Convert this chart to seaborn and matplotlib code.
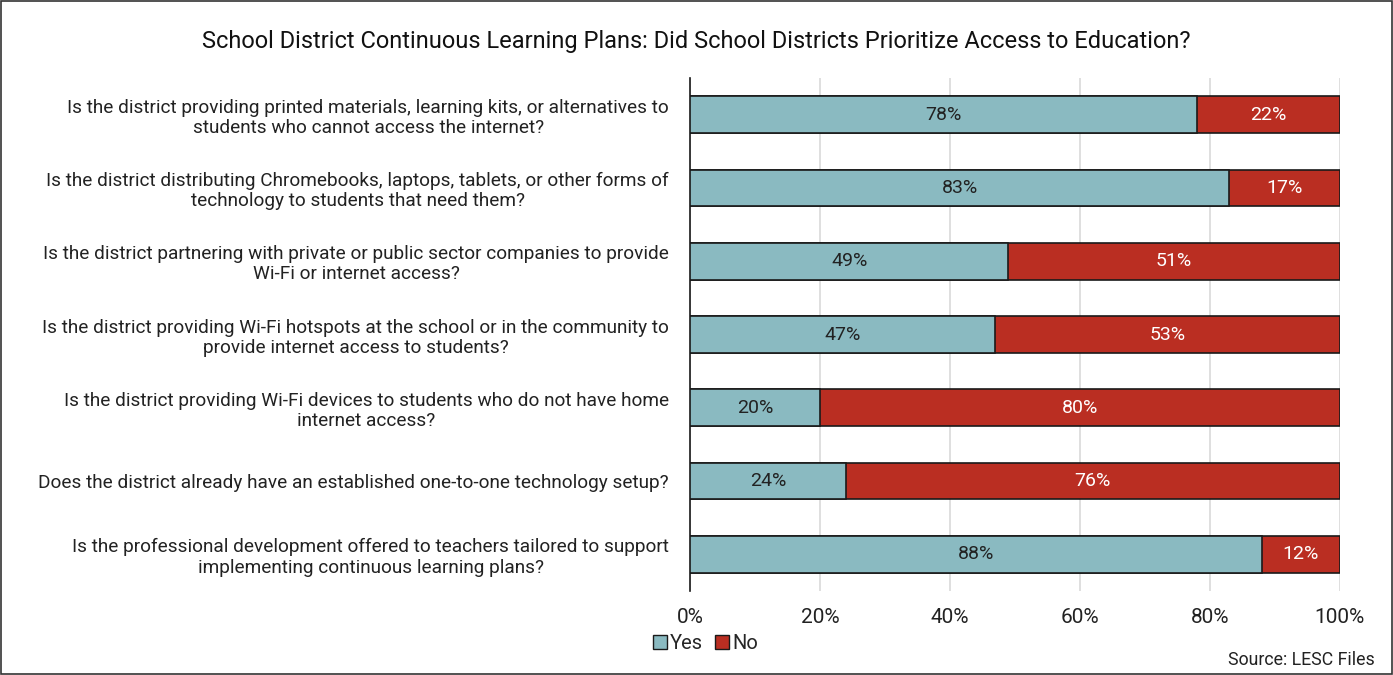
import matplotlib
matplotlib.use("Agg")
import matplotlib.pyplot as plt
from matplotlib.patches import Rectangle, Patch
from matplotlib.ticker import PercentFormatter
import seaborn as sns
import pandas as pd

questions = [
    "Is the district providing printed materials, learning kits, or alternatives to\nstudents who cannot access the internet?",
    "Is the district distributing Chromebooks, laptops, tablets, or other forms of\ntechnology to students that need them?",
    "Is the district partnering with private or public sector companies to provide\nWi-Fi or internet access?",
    "Is the district providing Wi-Fi hotspots at the school or in the community to\nprovide internet access to students?",
    "Is the district providing Wi-Fi devices to students who do not have home\ninternet access?",
    "Does the district already have an established one-to-one technology setup?",
    "Is the professional development offered to teachers tailored to support\nimplementing continuous learning plans?",
]
yes_pct = [78, 83, 49, 47, 20, 24, 88]
no_pct = [22, 17, 51, 53, 80, 76, 12]
x_ticks = [0, 20, 40, 60, 80, 100]

YES_COLOR = "#8ABAC1"
NO_COLOR = "#BA2E22"

sns.set_theme(style="white")
plt.rcParams["font.family"] = ["Roboto", "DejaVu Sans"]

df = pd.DataFrame({"question": questions, "Yes": yes_pct, "No": no_pct})
df["total"] = df["Yes"] + df["No"]

fig = plt.figure(figsize=(13.93, 6.75), dpi=100)
ax = fig.add_axes([0.4953, 0.1244, 0.4666, 0.76])

# stacked horizontal bars: full-length "No" bar underneath, "Yes" on top
sns.barplot(data=df, y="question", x="total", color=NO_COLOR, orient="h", saturation=1,
            width=0.5, edgecolor="#1a1a1a", linewidth=1.2, ax=ax, zorder=2)
sns.barplot(data=df, y="question", x="Yes", color=YES_COLOR, orient="h", saturation=1,
            width=0.5, edgecolor="#1a1a1a", linewidth=1.2, ax=ax, zorder=3)

for i, (y, n) in enumerate(zip(yes_pct, no_pct)):
    ax.text(y / 2, i, f"{y}%", ha="center", va="center", fontsize=14,
            color="#222222", zorder=4)
    ax.text(y + n / 2, i, f"{n}%", ha="center", va="center", fontsize=14,
            color="white", zorder=4)

ax.set_xlim(0, 100)
ax.set_ylim(6.5, -0.5)
ax.set_xticks(x_ticks)
ax.xaxis.set_major_formatter(PercentFormatter(decimals=0))
ax.grid(axis="x", color="#d9d9d9", linewidth=1.2, zorder=0)
ax.set_axisbelow(True)
for side in ["top", "right", "bottom"]:
    ax.spines[side].set_visible(False)
ax.spines["left"].set_color("#1a1a1a")
ax.spines["left"].set_linewidth(1.2)
ax.set_xlabel("")
ax.set_ylabel("")
ax.tick_params(axis="x", labelsize=15, colors="#222222", length=0, pad=12)
ax.tick_params(axis="y", labelsize=13.7, colors="#222222", length=0, pad=15)
for lbl in ax.get_yticklabels():
    lbl.set_multialignment("center")
    lbl.set_linespacing(1.15)

fig.text(0.5, 0.938, "School District Continuous Learning Plans: Did School Districts Prioritize Access to Education?",
         ha="center", va="center", fontsize=17, color="#111111")

handles = [Patch(facecolor=YES_COLOR, edgecolor="#1a1a1a", label="Yes"),
           Patch(facecolor=NO_COLOR, edgecolor="#1a1a1a", label="No")]
fig.legend(handles=handles, loc="center left", bbox_to_anchor=(0.4615, 0.046), ncol=2,
           frameon=False, fontsize=14.5, handlelength=0.7, handleheight=0.7,
           handletextpad=0.15, columnspacing=0.6, borderpad=0)

fig.text(0.987, 0.022, "Source: LESC Files", ha="right", va="center", fontsize=12.8, color="#222222")

fig.add_artist(Rectangle((0.001, 0.001), 0.998, 0.997, transform=fig.transFigure,
                         fill=False, edgecolor="#333333", linewidth=1.2))

fig.savefig("out.png", dpi=100, facecolor="white")
